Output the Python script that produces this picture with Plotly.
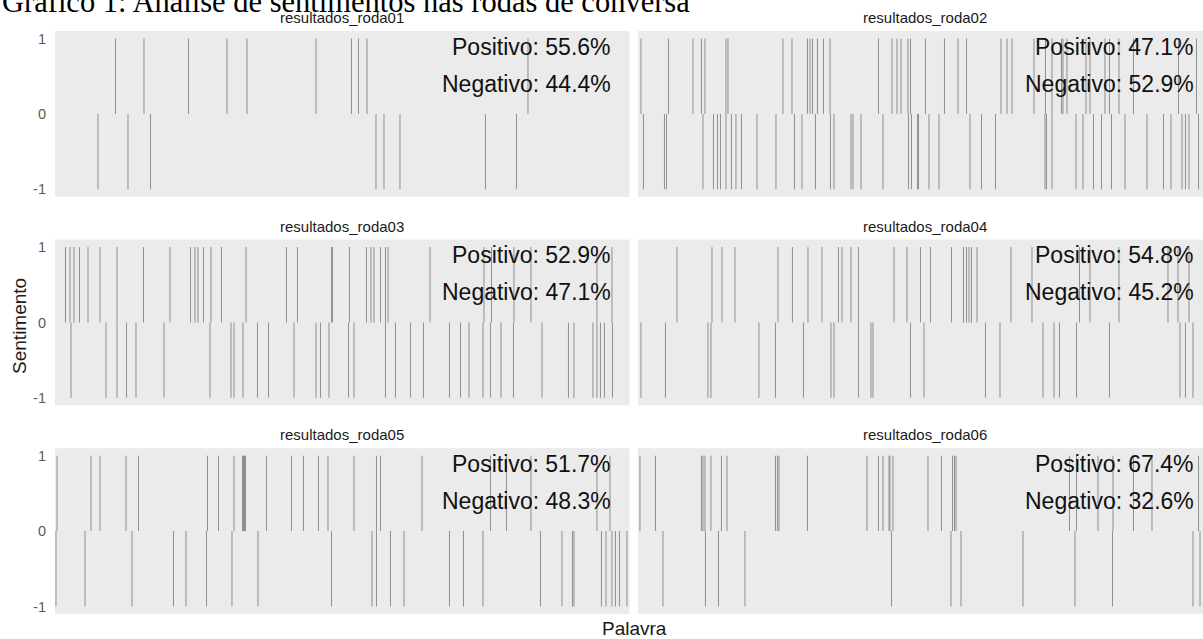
import plotly.graph_objects as go

# ---------------- data (word position in the text) ----------------
panel_names = ["resultados_roda01", "resultados_roda02", "resultados_roda03",
               "resultados_roda04", "resultados_roda05", "resultados_roda06"]

roda01_pos = [121, 178, 267, 344, 384, 522, 593, 607, 624, 946]
roda01_neg = [86, 146, 191, 642, 658, 690, 861, 923]

roda02_pos = [6, 61, 110, 127, 134, 176, 180, 290, 308, 339, 344, 349, 359, 371, 384,
              481, 508, 518, 526, 540, 545, 575, 613, 640, 657, 726, 738, 748, 792,
              815, 828, 847, 850, 858, 896, 904, 934, 943, 962, 991, 1081, 1117]
roda02_neg = [11, 53, 57, 130, 151, 159, 165, 176, 187, 196, 207, 238, 276, 313, 328,
              355, 385, 392, 426, 430, 446, 490, 541, 547, 559, 561, 582, 602, 664,
              687, 715, 814, 817, 828, 876, 890, 911, 927, 947, 974, 1018, 1051, 1066,
              1088, 1095, 1102, 1121]

roda03_pos = [21, 30, 38, 49, 66, 90, 124, 177, 230, 271, 280, 286, 297, 312, 333, 382,
              463, 485, 553, 555, 589, 623, 632, 638, 651, 661, 666, 750, 858, 873,
              918, 952, 1084, 1114]
roda03_neg = [32, 102, 124, 143, 162, 218, 310, 352, 358, 376, 405, 427, 478, 522, 531,
              548, 587, 598, 661, 681, 711, 737, 789, 811, 828, 856, 871, 892, 917,
              974, 1027, 1038, 1076, 1084, 1091, 1099, 1115]

roda04_pos = [78, 148, 168, 194, 280, 309, 340, 368, 401, 408, 426, 441, 512, 538, 565,
              585, 627, 651, 657, 662, 667, 678, 746, 788, 883, 904, 962, 1060, 1080, 1102]
roda04_neg = [6, 55, 140, 146, 242, 275, 331, 386, 392, 441, 466, 470, 545, 572, 695,
              724, 810, 832, 843, 877, 943, 1084, 1095, 1110]

roda05_pos = [4, 72, 90, 142, 167, 305, 327, 358, 375, 377, 379, 381, 423, 473, 497,
              527, 546, 598, 643, 651, 734, 871, 903, 952, 1084, 1110]
roda05_neg = [2, 60, 154, 237, 262, 303, 354, 406, 553, 634, 643, 671, 698, 789, 817,
              856, 971, 1014, 1035, 1038, 1093, 1102, 1114, 1121, 1129, 1144]

roda06_pos = [4, 35, 127, 130, 134, 146, 167, 178, 275, 279, 282, 339, 458, 481, 490,
              502, 504, 510, 580, 607, 629, 633, 636, 863, 877, 920, 950, 991, 1028, 1121]
roda06_neg = [50, 135, 161, 214, 507, 626, 646, 770, 874, 949, 1110, 1124]

pct_positivo = [55.6, 47.1, 52.9, 54.8, 51.7, 67.4]
pct_negativo = [44.4, 52.9, 47.1, 45.2, 48.3, 32.6]

y_ticks = [-1, 0, 1]
y_tick_labels = ["-1", "0", "1"]

title_text = "Gráfico 1: Análise de sentimentos nas rodas de conversa"
x_title = "Palavra"
y_title = "Sentimento"

positives = [roda01_pos, roda02_pos, roda03_pos, roda04_pos, roda05_pos, roda06_pos]
negatives = [roda01_neg, roda02_neg, roda03_neg, roda04_neg, roda05_neg, roda06_neg]

# ---------------- layout geometry ----------------
W, H = 1203, 639
ML, MR, MT, MB = 55, 0, 31.4, 24.5
PW = W - ML - MR
PH = H - MT - MB

col_domains = [[0.0, 0.5004], [0.5078, 1.0]]
row_domains = [[0.7155, 1.0], [0.3578, 0.6423], [0.0, 0.2845]]
x_full = 1149           # word span of a full panel
x_right_visible = 1130  # right column is cut by the picture edge

BG = "#EBEBEB"
BAR = "#8f8f8f"
FONT = "Liberation Sans, Arial, sans-serif"

fig = go.Figure()
annotations = []

for i in range(6):
    r, c = divmod(i, 2)
    n = i + 1
    xa = "x" if n == 1 else f"x{n}"
    ya = "y" if n == 1 else f"y{n}"

    xs, ys = [], []
    for v in positives[i]:
        xs += [v, v, None]
        ys += [0, 1, None]
    for v in negatives[i]:
        xs += [v, v, None]
        ys += [0, -1, None]
    fig.add_trace(go.Scatter(x=xs, y=ys, mode="lines",
                             line=dict(color=BAR, width=1),
                             xaxis=xa, yaxis=ya, hoverinfo="skip",
                             showlegend=False))

    xkey = "xaxis" if n == 1 else f"xaxis{n}"
    ykey = "yaxis" if n == 1 else f"yaxis{n}"
    fig.update_layout(**{
        xkey: dict(domain=col_domains[c], anchor=ya,
                   range=[0, x_full if c == 0 else x_right_visible],
                   showgrid=False, zeroline=False, showticklabels=False,
                   ticks="", showline=False, fixedrange=True),
        ykey: dict(domain=row_domains[r], anchor=xa, range=[-1.1, 1.1],
                   tickvals=y_ticks, ticktext=y_tick_labels,
                   showticklabels=(c == 0), ticks="", showgrid=False,
                   zeroline=False, showline=False, fixedrange=True,
                   ticklabelstandoff=8,
                   tickfont=dict(family=FONT, size=14.5, color="#5a5a5a")),
    })

    # strip label
    annotations.append(dict(text=panel_names[i], xref=xa, x=x_full / 2,
                            yref=f"{ya} domain", y=1, yanchor="bottom",
                            yshift=3, showarrow=False,
                            font=dict(family=FONT, size=15, color="#1a1a1a")))
    # percentages
    annotations.append(dict(text=f"Positivo: {pct_positivo[i]}%", xref=xa, x=1116,
                            xanchor="right", yref=ya, y=0.89, yanchor="middle",
                            showarrow=False,
                            font=dict(family=FONT, size=23, color="#111111")))
    annotations.append(dict(text=f"Negativo: {pct_negativo[i]}%", xref=xa, x=1116,
                            xanchor="right", yref=ya, y=0.40, yanchor="middle",
                            showarrow=False,
                            font=dict(family=FONT, size=23, color="#111111")))

# axis titles and main title
annotations.append(dict(text=y_title, xref="paper", x=(19.7 - ML) / PW, xanchor="center",
                        yref="paper", y=(H - MB - 326.7) / PH, yanchor="middle",
                        textangle=-90, showarrow=False,
                        font=dict(family=FONT, size=19, color="#1a1a1a")))
annotations.append(dict(text=x_title, xref="paper", x=(634.5 - ML) / PW, xanchor="center",
                        yref="paper", y=-(629 - (H - MB)) / PH, yanchor="middle",
                        showarrow=False, font=dict(family=FONT, size=19, color="#1a1a1a")))
annotations.append(dict(text=title_text, xref="paper", x=-ML / PW, xanchor="left",
                        yref="paper", y=1 + (MT - 2.7) / PH, yanchor="middle",
                        showarrow=False,
                        font=dict(family="Liberation Serif, Times New Roman, serif",
                                  size=30.5, color="#000000")))

fig.update_layout(width=W, height=H, margin=dict(l=ML, r=MR, t=MT, b=MB),
                  paper_bgcolor="white", plot_bgcolor=BG, showlegend=False,
                  annotations=annotations)

fig.write_html("out.html", config={"displayModeBar": False},
               post_script="document.body.style.margin='0';"
                           "document.body.style.overflow='hidden';")
